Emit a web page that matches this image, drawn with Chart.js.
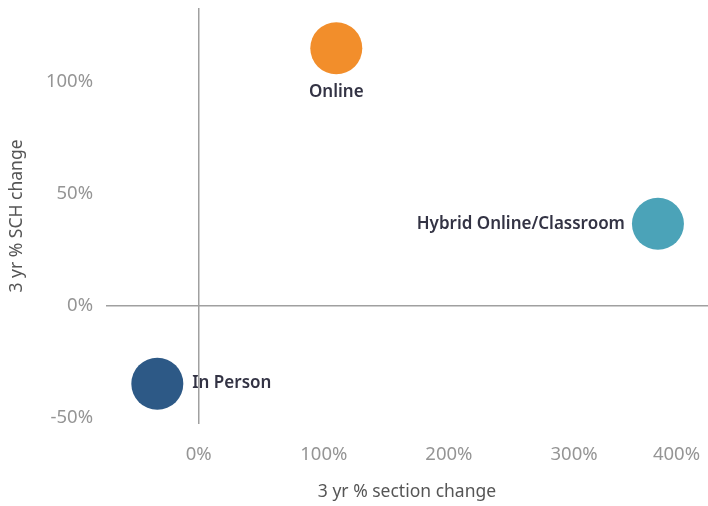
<!DOCTYPE html>
<html>
<head>
<meta charset="utf-8">
<script src="https://cdn.jsdelivr.net/npm/chart.js@4.4.0/dist/chart.umd.min.js"></script>
<style>
  html, body { margin: 0; padding: 0; background: #fff; }
</style>
</head>
<body>
<canvas id="myChart" width="708" height="506"></canvas>
<script>
// datos del grafico
const categories = ["Online", "Hybrid Online/Classroom", "In Person"];
const sectionChange = [110, 367, -33];
const schChange = [115, 36.5, -35];
const xTickValues = [0, 100, 200, 300, 400];
const yTickValues = [-50, 0, 50, 100];

const pointColors = ["#F28E2B", "#4BA3B8", "#2D5986"];
const labelPos = ["below", "left", "right"];
const fontFamily = '"Noto Sans", sans-serif';
const tickColor = "#959595";
const zeroLine = "#a0a0a0";

// etiquetas de cada punto
const pointLabels = {
  id: "pointLabels",
  afterDatasetsDraw(chart) {
    const { ctx } = chart;
    const meta = chart.getDatasetMeta(0);
    ctx.save();
    ctx.font = "600 17px " + fontFamily;
    ctx.fillStyle = "#333344";
    ctx.textBaseline = "middle";
    meta.data.forEach((pt, i) => {
      const r = pt.options.radius;
      if (labelPos[i] === "below") {
        ctx.textAlign = "center";
        ctx.fillText(categories[i], pt.x, pt.y + r + 18);
      } else if (labelPos[i] === "left") {
        ctx.textAlign = "right";
        ctx.fillText(categories[i], pt.x - r - 7, pt.y);
      } else {
        ctx.textAlign = "left";
        ctx.fillText(categories[i], pt.x + r + 9, pt.y - 1);
      }
    });
    ctx.restore();
  },
};

// ticks del eje x, el ultimo se mete dentro del canvas
const xTickLabels = {
  id: "xTickLabels",
  afterDraw(chart) {
    const { ctx, chartArea } = chart;
    const x = chart.scales.x;
    ctx.save();
    ctx.font = "18.5px " + fontFamily;
    ctx.fillStyle = tickColor;
    ctx.textBaseline = "middle";
    ctx.textAlign = "left";
    x.ticks.forEach((t) => {
      const label = t.value + "%";
      const w = ctx.measureText(label).width;
      let px = x.getPixelForValue(t.value) - w / 2;
      if (px + w > chart.width - 8) px = chart.width - 8 - w;
      ctx.fillText(label, px, chartArea.bottom + 31);
    });
    ctx.restore();
  },
};

const config = {
  type: "scatter",
  data: {
    datasets: [
      {
        data: sectionChange.map((v, i) => ({ x: v, y: schChange[i] })),
        backgroundColor: pointColors,
        borderWidth: 0,
        pointRadius: 26,
        pointHoverRadius: 26,
      },
    ],
  },
  options: {
    responsive: false,
    animation: false,
    devicePixelRatio: 1,
    layout: { autoPadding: false, padding: { top: 8, right: 0, left: 0, bottom: 0 } },
    plugins: { legend: { display: false }, tooltip: { enabled: false } },
    scales: {
      x: {
        type: "linear",
        min: -74,
        max: 407,
        afterBuildTicks: (s) => { s.ticks = xTickValues.map((v) => ({ value: v })); },
        afterFit: (s) => { s.height = 82; s.paddingLeft = 0; s.paddingRight = 0; },
        ticks: { display: false },
        grid: {
          drawTicks: false,
          color: (c) => (c.tick && c.tick.value === 0 ? zeroLine : "rgba(0,0,0,0)"),
          lineWidth: 1.5,
        },
        border: { display: false },
        title: {
          display: true,
          text: "3 yr % section change",
          color: "#555555",
          font: { family: fontFamily, size: 17.5 },
          padding: { top: 0, bottom: 3 },
        },
      },
      y: {
        type: "linear",
        min: -53,
        max: 133,
        afterBuildTicks: (s) => { s.ticks = yTickValues.map((v) => ({ value: v })); },
        afterFit: (s) => { s.width = 106; s.paddingTop = 0; s.paddingBottom = 0; },
        ticks: {
          padding: 13,
          color: tickColor,
          font: { family: fontFamily, size: 18.5 },
          callback: (v) => v + "%",
        },
        grid: {
          drawTicks: false,
          color: (c) => (c.tick && c.tick.value === 0 ? zeroLine : "rgba(0,0,0,0)"),
          lineWidth: 1.5,
        },
        border: { display: false },
        title: {
          display: true,
          text: "3 yr % SCH change",
          color: "#555555",
          font: { family: fontFamily, size: 17.5 },
          padding: { top: 7, bottom: 0 },
        },
      },
    },
  },
  plugins: [pointLabels, xTickLabels],
};

const ctx = document.getElementById("myChart").getContext("2d");
new Chart(ctx, config);
</script>
</body>
</html>
